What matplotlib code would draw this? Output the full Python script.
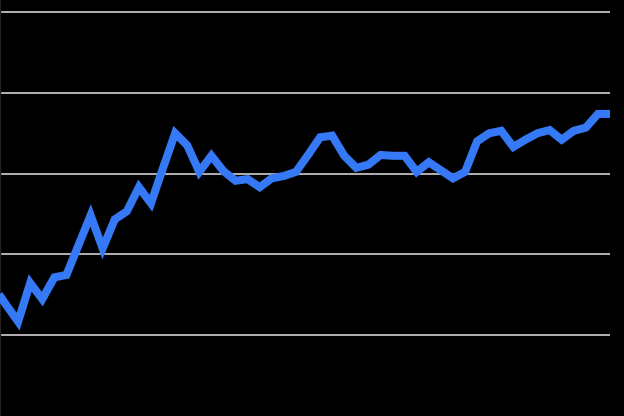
import numpy as np
import matplotlib
matplotlib.use("Agg")
from matplotlib import pyplot as plt

# values, one per period (the first one is cut off by the left edge)
periods = np.arange(-1, 51)
values = [
    15.9,
    13.7, 11.6, 16.4, 14.4, 17.1, 17.4, 21.1, 24.8, 20.7, 24.3,
    25.3, 28.3, 26.3, 30.7, 35.0, 33.5, 30.2, 32.2, 30.3, 29.1,
    29.3, 28.3, 29.4, 29.7, 30.2, 32.3, 34.5, 34.7, 32.2, 30.7,
    31.1, 32.3, 32.2, 32.2, 30.2, 31.4, 30.4, 29.4, 30.2, 34.0,
    35.0, 35.3, 33.3, 34.2, 35.0, 35.4, 34.2, 35.3, 35.7, 37.4,
    37.4,
]
grid_values = [10, 20, 30, 40, 50]

fig = plt.figure(figsize=(6.24, 4.16), dpi=100, facecolor="black")
ax = fig.add_axes([0, 0, 610 / 624, 1])
ax.set_facecolor("black")

ax.plot(
    periods,
    values,
    color="#3579f6",
    linewidth=5.8,
    solid_joinstyle="miter",
    solid_capstyle="butt",
    zorder=3,
)

ax.set_yticks(grid_values)
ax.yaxis.grid(True, color="#d0d0d0", linewidth=1.2)
ax.tick_params(left=False, bottom=False, labelleft=False, labelbottom=False)
ax.set_xticks([])

ax.set_xlim(-0.5, 50)
ax.set_ylim(-0.12, 51.55)

for side in ["top", "right", "bottom"]:
    ax.spines[side].set_visible(False)
ax.spines["left"].set_color("#222222")
ax.spines["left"].set_linewidth(1.0)

fig.savefig("out.png", dpi=100, facecolor="black")
